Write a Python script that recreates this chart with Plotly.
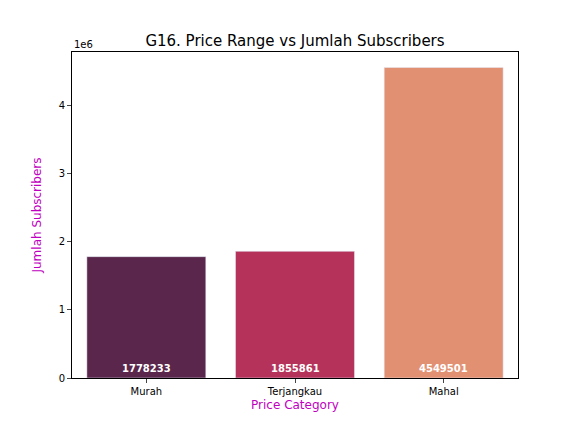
import plotly.graph_objects as go

categories = ["Murah", "Terjangkau", "Mahal"]
subscribers = [1778233, 1855861, 4549501]
colors = ["#5b264c", "#b5325a", "#e29072"]

fig = go.Figure(go.Bar(x=categories, y=subscribers, marker_color=colors, width=0.8,
                       text=[str(v) for v in subscribers], textposition="none", hoverinfo="x+y"))
for c, v in zip(categories, subscribers):
    fig.add_annotation(x=c, y=0, yanchor="bottom", yshift=2, text=f"<b>{v}</b>",
                       showarrow=False, font=dict(color="white", size=10))
fig.add_annotation(x=0, y=1, xref="paper", yref="paper", xanchor="left", yanchor="bottom",
                   text="1e6", showarrow=False, font=dict(size=10, color="black"))
ymax = max(subscribers) * 1.05
fig.update_layout(
    width=576, height=432, margin=dict(l=64, r=66, t=44, b=62),
    paper_bgcolor="white", plot_bgcolor="white",
    font=dict(family="DejaVu Sans", size=10, color="black"),
    title=dict(text="G16. Price Range vs Jumlah Subscribers", x=(72+518)/2/576 - 8/576, xanchor="center",
               y=1 - 33/432, yanchor="middle", font=dict(size=15)),
    showlegend=False,
    xaxis=dict(range=[-0.5, 2.5], showline=True, linecolor="black", mirror=True,
               ticks="outside", ticklen=4, title=dict(text="Price Category", font=dict(color="#bf00bf", size=12), standoff=4)),
    yaxis=dict(range=[0, ymax], tickvals=[0, 1e6, 2e6, 3e6, 4e6], ticktext=["0", "1", "2", "3", "4"],
               showline=True, linecolor="black", mirror=True, showgrid=False, zeroline=False,
               ticks="outside", ticklen=4,
               title=dict(text="Jumlah Subscribers", font=dict(color="#bf00bf", size=12), standoff=14)),
)
fig.write_html("out.html")
